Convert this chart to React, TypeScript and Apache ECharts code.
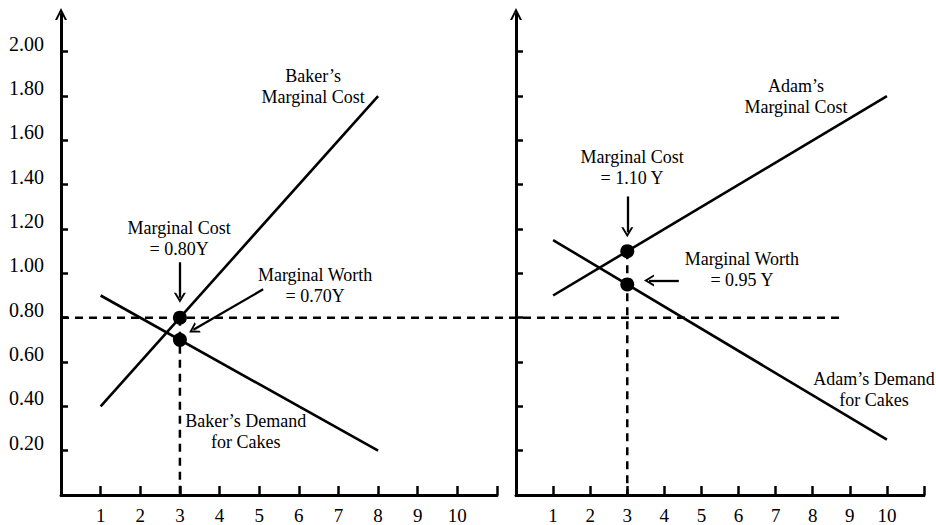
import React, { useEffect, useRef } from "react";
import * as echarts from "echarts";

// ---- axis ticks / labels ----
const xTickValues = [1, 2, 3, 4, 5, 6, 7, 8, 9, 10, 11];
const xLabelValues = [1, 2, 3, 4, 5, 6, 7, 8, 9, 10];
const yTickValues = [0.2, 0.4, 0.6, 0.8, 1.0, 1.2, 1.4, 1.6, 1.8, 2.0];
const yTickLabels = ["0.20", "0.40", "0.60", "0.80", "1.00", "1.20", "1.40", "1.60", "1.80", "2.00"];

// ---- shared horizontal guide at 0.80 (starts at Baker's y axis, ends in Adam's panel) ----
const guideLevel = 0.8;
const guideStartX = 0; // in Baker's panel
const guideEndX = 8.73; // in Adam's panel

// ---- Baker (left panel) ----
const bakerMarginalCost = [[1, 0.4], [8, 1.8]];
const bakerDemand = [[1, 0.9], [8, 0.2]];
const bakerPoints = [[3, 0.8], [3, 0.7]];
const bakerGuideV = [[3, 0.8], [3, 0]];
const bakerArrows = [
  [[3, 1.05], [3, 0.89]],
  [[5.1, 0.928], [3.34, 0.745]],
];
const bakerNotes = [
  { text: "Baker’s\nMarginal Cost", at: [6.36, 1.845] },
  { text: "Marginal Cost\n= 0.80Y", at: [2.98, 1.155] },
  { text: "Marginal Worth\n= 0.70Y", at: [6.41, 0.946] },
  { text: "Baker’s Demand\nfor Cakes", at: [4.66, 0.286] },
];

// ---- Adam (right panel) ----
const adamMarginalCost = [[1, 0.9], [10, 1.8]];
const adamDemand = [[1, 1.15], [10, 0.25]];
const adamPoints = [[3, 1.1], [3, 0.95]];
const adamGuideV = [[3, 1.1], [3, 0]];
const adamArrows = [
  [[3, 1.347], [3, 1.185]],
  [[4.39, 0.968], [3.585, 0.968]],
];
const adamNotes = [
  { text: "Adam’s\nMarginal Cost", at: [7.55, 1.797] },
  { text: "Marginal Cost\n= 1.10 Y", at: [3.13, 1.477] },
  { text: "Marginal Worth\n= 0.95 Y", at: [6.09, 1.016] },
  { text: "Adam’s Demand\nfor Cakes", at: [9.65, 0.475] },
];

const FONT = '"Liberation Serif", "Times New Roman", serif';
const CHEVRON = "path://M0,10 L5,0 L10,10 L8.2,10 L5,3.6 L1.8,10 Z";
const INK = "#000";

function xAxisFor(gridIndex: number) {
  return {
    type: "value" as const,
    gridIndex,
    min: 0,
    max: 11,
    interval: 1,
    axisLine: { show: true, onZero: false, lineStyle: { color: INK, width: 3 } },
    axisTick: {
      show: true,
      inside: true,
      length: 9,
      customValues: xTickValues,
      lineStyle: { color: INK, width: 2.5 },
    },
    axisLabel: {
      show: true,
      customValues: xLabelValues,
      formatter: (v: number) => (xLabelValues.includes(v) ? String(v) : ""),
      margin: 11,
      color: INK,
      fontFamily: FONT,
      fontSize: 19,
      lineHeight: 19,
    },
    splitLine: { show: false },
  };
}

function yAxisFor(gridIndex: number, showLabels: boolean) {
  return {
    type: "value" as const,
    gridIndex,
    min: 0,
    max: 2.17,
    axisLine: {
      show: true,
      onZero: false,
      symbol: ["none", CHEVRON],
      symbolSize: [14, 12],
      lineStyle: { color: INK, width: 3 },
    },
    axisTick: {
      show: true,
      inside: true,
      length: 7,
      customValues: yTickValues,
      lineStyle: { color: INK, width: 2.5 },
    },
    axisLabel: {
      show: showLabels,
      customValues: yTickValues,
      formatter: (v: number) => {
        const i = yTickValues.findIndex((t) => Math.abs(t - v) < 1e-6);
        return i >= 0 ? yTickLabels[i] : "";
      },
      margin: 17,
      color: INK,
      fontFamily: FONT,
      fontSize: 20,
      lineHeight: 16,
      verticalAlign: "bottom",
    },
    splitLine: { show: false },
  };
}

function solidLine(data: number[][], gi: number) {
  return {
    type: "line",
    xAxisIndex: gi,
    yAxisIndex: gi,
    data,
    symbol: "none",
    silent: true,
    lineStyle: { color: INK, width: 2.6 },
    z: 3,
  };
}

function dashedLine(data: number[][], gi: number) {
  return {
    type: "line",
    xAxisIndex: gi,
    yAxisIndex: gi,
    data,
    symbol: "none",
    silent: true,
    clip: false,
    lineStyle: { color: INK, width: 2.5, type: [8, 6] },
    z: 2,
  };
}

function arrowSeries(arrows: number[][][], gi: number) {
  return {
    type: "line",
    xAxisIndex: gi,
    yAxisIndex: gi,
    data: [],
    symbol: "none",
    silent: true,
    markLine: {
      silent: true,
      symbol: ["none", CHEVRON],
      symbolSize: [12, 10],
      label: { show: false },
      emphasis: { disabled: true },
      lineStyle: { color: INK, width: 2.3, type: "solid" },
      itemStyle: { color: INK },
      data: arrows.map((a) => [{ coord: a[0] }, { coord: a[1] }]),
    },
    z: 4,
  };
}

function pointSeries(data: number[][], gi: number) {
  return {
    type: "scatter",
    xAxisIndex: gi,
    yAxisIndex: gi,
    data,
    symbol: "circle",
    symbolSize: 14,
    silent: true,
    itemStyle: { color: INK, opacity: 1 },
    z: 5,
  };
}

export default function App() {
  const ref = useRef<HTMLDivElement>(null);

  useEffect(() => {
    if (!ref.current) return;
    const chart = echarts.init(ref.current, undefined, { renderer: "svg" });
    chart.setOption({
      animation: false,
      backgroundColor: "#fff",
      grid: [
        { left: 61, top: 14, width: 436, height: 482 },
        { left: 516, top: 14, width: 408, height: 482 },
      ],
      xAxis: [xAxisFor(0), xAxisFor(1)],
      yAxis: [yAxisFor(0, true), yAxisFor(1, false)],
      series: [
        dashedLine(bakerGuideV, 0),
        dashedLine(adamGuideV, 1),
        solidLine(bakerMarginalCost, 0),
        solidLine(bakerDemand, 0),
        solidLine(adamMarginalCost, 1),
        solidLine(adamDemand, 1),
        arrowSeries(bakerArrows, 0),
        arrowSeries(adamArrows, 1),
        pointSeries(bakerPoints, 0),
        pointSeries(adamPoints, 1),
      ],
    });

    const toPx = (gi: number, at: number[]) =>
      chart.convertToPixel({ gridIndex: gi } as any, at) as number[];

    const notes = [
      ...bakerNotes.map((n) => ({ ...n, gi: 0 })),
      ...adamNotes.map((n) => ({ ...n, gi: 1 })),
    ];
    const texts = notes.map((n) => {
      const p = toPx(n.gi, n.at);
      return {
        type: "text",
        x: p[0],
        y: p[1],
        silent: true,
        style: {
          text: n.text,
          fill: INK,
          font: `18px ${FONT}`,
          align: "center",
          verticalAlign: "middle",
          lineHeight: 21,
        },
        z: 10,
      };
    });

    const g0 = toPx(0, [guideStartX, guideLevel]);
    const g1 = toPx(1, [guideEndX, guideLevel]);
    const guide = {
      type: "line",
      silent: true,
      z: 2,
      shape: { x1: g0[0], y1: g0[1], x2: g1[0], y2: g1[1] },
      style: { stroke: INK, lineWidth: 2.5, lineDash: [8, 6] },
    };

    chart.setOption({ graphic: [guide, ...texts] });

    return () => chart.dispose();
  }, []);

  return (
    <div
      ref={ref}
      style={{ position: "absolute", left: 0, top: 0, width: 936, height: 525, background: "#fff" }}
    />
  );
}
